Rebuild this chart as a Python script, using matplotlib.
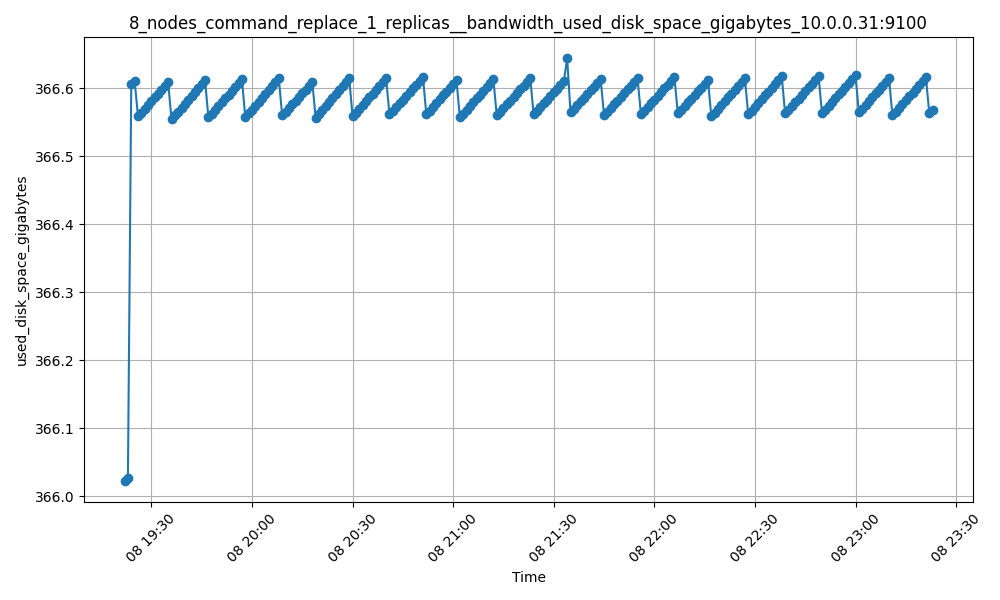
import pandas as pd
import matplotlib
matplotlib.use("Agg")
import matplotlib.pyplot as plt

# Sampled once per minute starting at 19:22 on the 8th
start_time = "2024-01-08 19:22"
title = "8_nodes_command_replace_1_replicas__bandwidth_used_disk_space_gigabytes_10.0.0.31:9100"

# first readings before the disk filled up
head_values = [366.0225, 366.0275, 366.6070, 366.6110]

# saw-tooth cycles
cycle_values = [
    [366.5588, 366.5644, 366.5699, 366.5755, 366.5810, 366.5866, 366.5921, 366.5977, 366.6032, 366.6088],
    [366.5544, 366.5601, 366.5659, 366.5716, 366.5774, 366.5831, 366.5888, 366.5946, 366.6003, 366.6061, 366.6118],
    [366.5574, 366.5630, 366.5686, 366.5741, 366.5797, 366.5853, 366.5909, 366.5965, 366.6020, 366.6076, 366.6132],
    [366.5574, 366.5631, 366.5689, 366.5746, 366.5803, 366.5861, 366.5918, 366.5975, 366.6032, 366.6090, 366.6147],
    [366.5603, 366.5657, 366.5711, 366.5765, 366.5819, 366.5872, 366.5926, 366.5980, 366.6034, 366.6088],
    [366.5559, 366.5618, 366.5677, 366.5735, 366.5794, 366.5853, 366.5912, 366.5971, 366.6029, 366.6088, 366.6147],
    [366.5588, 366.5644, 366.5700, 366.5756, 366.5812, 366.5868, 366.5923, 366.5979, 366.6035, 366.6091, 366.6147],
    [366.5618, 366.5672, 366.5727, 366.5781, 366.5836, 366.5890, 366.5944, 366.5999, 366.6053, 366.6108, 366.6162],
    [366.5618, 366.5674, 366.5729, 366.5785, 366.5840, 366.5896, 366.5951, 366.6007, 366.6062, 366.6118],
    [366.5574, 366.5630, 366.5686, 366.5741, 366.5797, 366.5853, 366.5909, 366.5965, 366.6020, 366.6076, 366.6132],
    [366.5603, 366.5657, 366.5712, 366.5766, 366.5821, 366.5875, 366.5929, 366.5984, 366.6038, 366.6093, 366.6147],
    [366.5618, 366.5672, 366.5726, 366.5780, 366.5834, 366.5887, 366.5941, 366.5995, 366.6049, 366.6103, 366.6440],
    [366.5647, 366.5701, 366.5755, 366.5809, 366.5863, 366.5916, 366.5970, 366.6024, 366.6078, 366.6132],
    [366.5603, 366.5657, 366.5712, 366.5766, 366.5821, 366.5875, 366.5929, 366.5984, 366.6038, 366.6093, 366.6147],
    [366.5618, 366.5672, 366.5727, 366.5781, 366.5836, 366.5890, 366.5944, 366.5999, 366.6053, 366.6108, 366.6162],
    [366.5632, 366.5686, 366.5740, 366.5794, 366.5848, 366.5902, 366.5956, 366.6010, 366.6064, 366.6118],
    [366.5588, 366.5644, 366.5700, 366.5756, 366.5812, 366.5868, 366.5923, 366.5979, 366.6035, 366.6091, 366.6147],
    [366.5618, 366.5674, 366.5730, 366.5785, 366.5841, 366.5897, 366.5953, 366.6009, 366.6064, 366.6120, 366.6176],
    [366.5632, 366.5686, 366.5741, 366.5795, 366.5850, 366.5904, 366.5958, 366.6013, 366.6067, 366.6122, 366.6176],
    [366.5632, 366.5688, 366.5744, 366.5800, 366.5856, 366.5912, 366.5967, 366.6023, 366.6079, 366.6135, 366.6191],
    [366.5647, 366.5703, 366.5758, 366.5814, 366.5869, 366.5925, 366.5980, 366.6036, 366.6091, 366.6147],
    [366.5603, 366.5659, 366.5715, 366.5771, 366.5827, 366.5883, 366.5938, 366.5994, 366.6050, 366.6106, 366.6162],
]

# last two readings
tail_values = [366.5632, 366.5676]

values = list(head_values)
for cycle in cycle_values:
    values.extend(cycle)
values.extend(tail_values)

times = pd.date_range(start_time, periods=len(values), freq="min")

plt.figure(figsize=(10, 6), dpi=100)
plt.plot(times, values, marker='o')
plt.title(title)
plt.xlabel('Time')
plt.ylabel('used_disk_space_gigabytes')
plt.xticks(rotation=45)
plt.grid(True)
plt.tight_layout()
plt.savefig("out.png")
